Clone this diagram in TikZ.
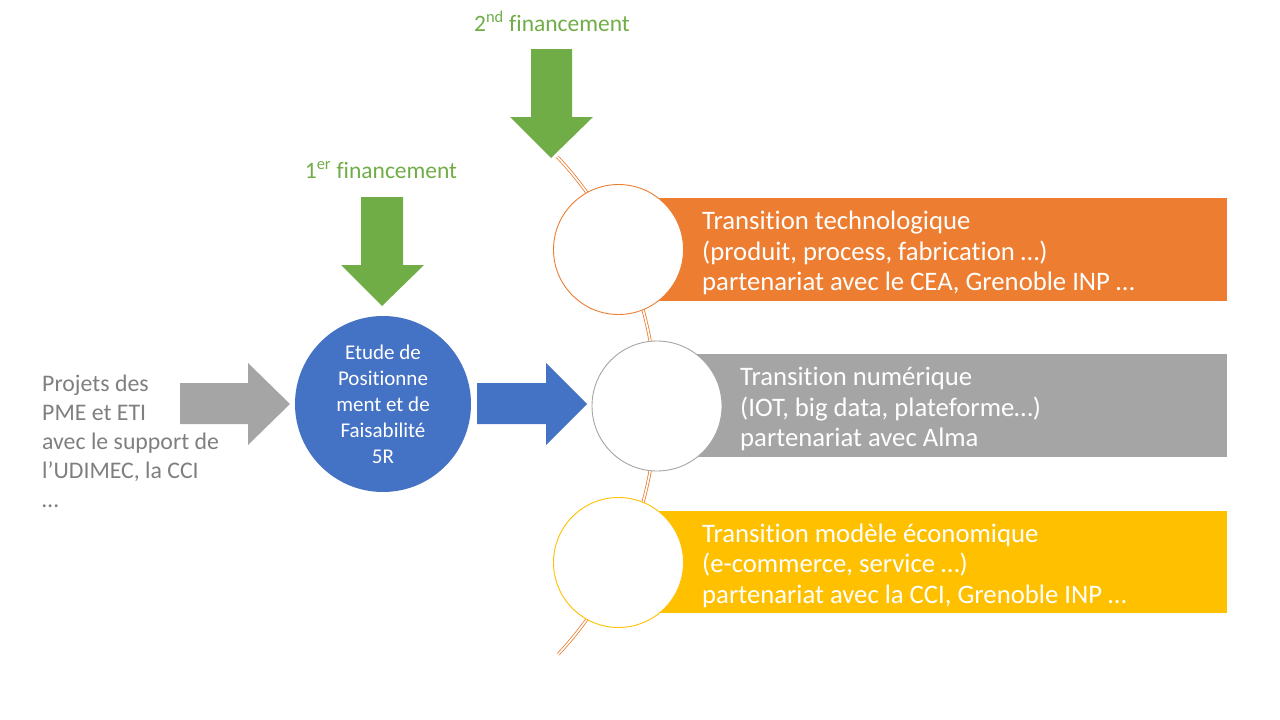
\documentclass[tikz,border=0pt]{standalone}
\usepackage{fontspec}
\setmainfont{Carlito}[Ligatures=NoCommon]
\definecolor{corange}{HTML}{ED7D31}
\definecolor{cgray}{HTML}{A5A5A5}
\definecolor{cyellow}{HTML}{FFC000}
\definecolor{cblue}{HTML}{4472C4}
\definecolor{cgreen}{HTML}{70AD47}
\definecolor{ctext}{HTML}{7F7F7F}
\begin{document}
\begin{tikzpicture}[x=1pt,y=-1pt,
  band/.style={inner sep=0pt, minimum height=103pt, anchor=north west},
  ring/.style={circle, fill=white, inner sep=0pt, minimum size=130pt, line width=0.9pt},
  boxtext/.style={inner sep=0pt, align=left, text=white, anchor=west, font={\fontsize{26.7}{30.5}\selectfont}},
  lefttext/.style={inner sep=0pt, align=left, text=ctext, anchor=west, font={\fontsize{23.8}{29}\selectfont}},
  greenlbl/.style={inner sep=0pt, text=cgreen, font={\fontsize{23.5}{28}\selectfont}},
  conn/.style={draw=corange, double=white, line width=0.8pt, double distance=1.6pt},
]
\useasboundingbox (0,0) rectangle (1280,720);

% connector curve (behind circles)
\coordinate (cstart) at (557,157);
\coordinate (cend) at (557,654);
\draw[conn] plot[domain=-43.2:43, samples=80] ({292+364*cos(\x)}, {406+364*sin(\x)});

% bands
\node[band, fill=corange, minimum width=609pt] (r1) at (618,198) {};
\node[band, fill=cgray, minimum width=570pt] (r2) at (657,354) {};
\node[band, fill=cyellow, minimum width=609pt, minimum height=102pt] (r3) at (618,511) {};

% circles
\node[ring, draw=corange] (c1) at (618.5,249.5) {};
\node[ring, draw=cgray] (c2) at (657,406) {};
\node[ring, draw=cyellow] (c3) at (618.5,562.5) {};

% band texts
\node[boxtext] (t1) at (702,253) {Transition technologique\\(produit, process, fabrication …)\\partenariat avec le CEA, Grenoble INP …};
\node[boxtext] (t2) at (740,409) {Transition numérique\\(IOT, big data, plateforme…)\\partenariat avec Alma};
\node[boxtext] (t3) at (702,565.5) {Transition modèle économique\\(e-commerce, service …)\\partenariat avec la CCI, Grenoble INP …};

% blue circle
\node[circle, fill=cblue, minimum size=176pt, inner sep=0pt, align=center, text=white,
      font={\fontsize{21}{26}\selectfont}] (etude) at (383,404) {Etude de\\Positionne\\ment et de\\Faisabilité\\5R};

% left text
\node[lefttext] (projets) at (42,441) {Projets des\\PME et ETI\\avec le support de\\l’UDIMEC, la CCI\\…};

% green labels
\node[greenlbl] (f1) at (381,170) {1\textsuperscript{er} financement};
\node[greenlbl] (f2) at (552,21) {2\textsuperscript{nd} financement};

% block arrows
\fill[cgray] (180,383) -- (248,383) -- (248,363) -- (290,404) -- (248,445) -- (248,424) -- (180,424) -- cycle;
\fill[cblue] (477,383) -- (546,383) -- (546,363) -- (587,404) -- (546,445) -- (546,424) -- (477,424) -- cycle;
\fill[cgreen] (361,197) -- (403,197) -- (403,265) -- (424,265) -- (382,306) -- (341,265) -- (361,265) -- cycle;
\fill[cgreen] (531,49) -- (572,49) -- (572,117) -- (593,117) -- (551,158) -- (510,117) -- (531,117) -- cycle;
\end{tikzpicture}
\end{document}
